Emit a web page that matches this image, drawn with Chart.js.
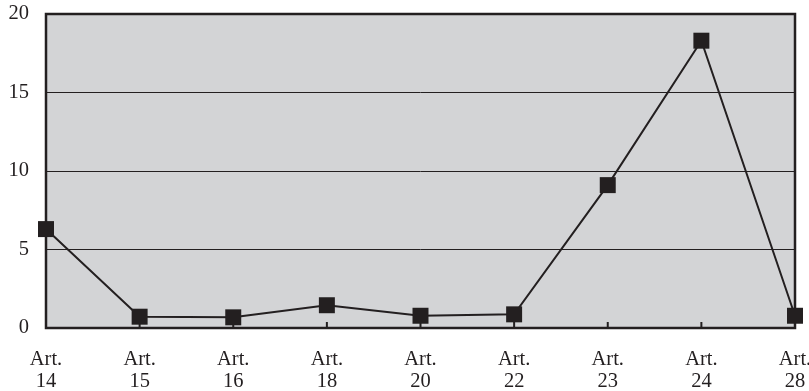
<!DOCTYPE html>
<html>
<head>
<meta charset="utf-8">
<script src="https://cdn.jsdelivr.net/npm/chart.js@4/dist/chart.umd.min.js"></script>
<style>
html,body{margin:0;padding:0;background:#fff;}
#wrap{width:809px;height:391px;position:relative;}
</style>
</head>
<body>
<div id="wrap"><canvas id="c"></canvas></div>
<script>
const categories = ['Art. 14','Art. 15','Art. 16','Art. 18','Art. 20','Art. 22','Art. 23','Art. 24','Art. 28'];
const values = [6.3, 0.72, 0.68, 1.45, 0.78, 0.87, 9.1, 18.3, 0.78];
const yTicks = [0, 5, 10, 15, 20];

const ink = '#231f20';
const plotBg = {
  id: 'plotBg',
  beforeDraw(chart) {
    const {ctx, chartArea: a} = chart;
    ctx.save();
    ctx.fillStyle = '#d3d4d6';
    ctx.fillRect(a.left, a.top, a.right - a.left, a.bottom - a.top);
    ctx.restore();
  },
  beforeDatasetsDraw(chart) {
    const {ctx, chartArea: a} = chart;
    const xs = chart.scales.x;
    ctx.save();
    ctx.strokeStyle = ink;
    ctx.lineWidth = 2.5;
    ctx.strokeRect(a.left, a.top, a.right - a.left, a.bottom - a.top);
    ctx.lineWidth = 2;
    ctx.beginPath();
    for (let i = 1; i < categories.length - 1; i++) {
      const x = xs.getPixelForTick(i);
      ctx.moveTo(x, a.bottom);
      ctx.lineTo(x, a.bottom - 6);
    }
    ctx.stroke();
    ctx.restore();
  }
};

function noPad(s) {
  s.paddingLeft = 0; s.paddingRight = 0; s.paddingTop = 0; s.paddingBottom = 0;
}

new Chart(document.getElementById('c'), {
  type: 'line',
  data: {
    labels: categories.map(s => s.split(' ')),
    datasets: [{
      data: values,
      borderColor: ink,
      borderWidth: 2,
      backgroundColor: ink,
      pointStyle: 'rect',
      pointRadius: 11.3,
      pointHoverRadius: 11.3,
      pointBackgroundColor: ink,
      pointBorderWidth: 0,
      tension: 0,
      clip: false
    }]
  },
  options: {
    responsive: true,
    maintainAspectRatio: false,
    animation: false,
    events: [],
    layout: {padding: {top: 14, right: 14, left: 0, bottom: 0}},
    plugins: {legend: {display: false}, tooltip: {enabled: false}},
    scales: {
      x: {
        offset: false,
        grid: {display: false, drawTicks: false},
        border: {display: false},
        ticks: {
          color: ink,
          padding: 21,
          maxRotation: 0,
          autoSkip: false,
          font: {family: '"Liberation Serif", "Times New Roman", serif', size: 20.5, lineHeight: 1.07}
        },
        afterFit(s) { s.height = 63; noPad(s); }
      },
      y: {
        min: 0, max: 20,
        afterBuildTicks(s) { s.ticks = yTicks.map(v => ({value: v})); },
        grid: {color: ink, lineWidth: 1, drawTicks: false},
        border: {display: false},
        ticks: {
          color: ink,
          padding: 17,
          font: {family: '"Liberation Serif", "Times New Roman", serif', size: 20.5}
        },
        afterFit(s) { s.width = 46; noPad(s); }
      }
    }
  },
  plugins: [plotBg]
});
</script>
</body>
</html>
